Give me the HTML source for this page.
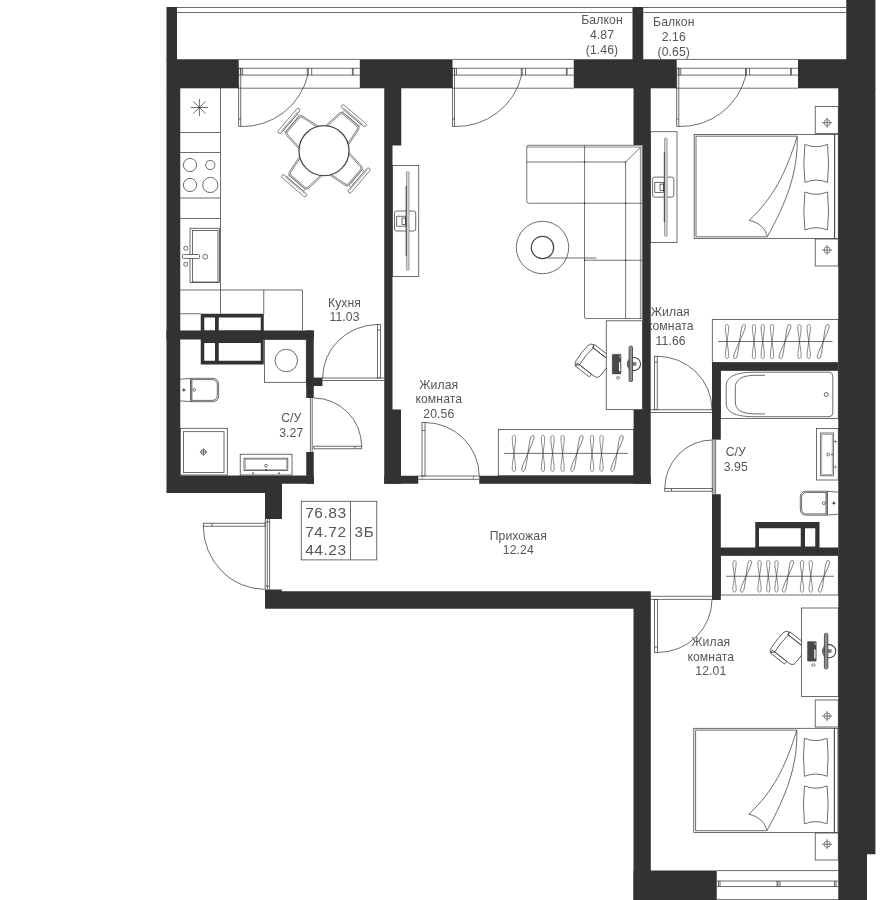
<!DOCTYPE html>
<html lang="ru"><head><meta charset="utf-8"><title>Планировка 3Б</title>
<style>html,body{margin:0;padding:0;background:#fff}svg{display:block}text{-webkit-font-smoothing:antialiased}</style></head>
<body>
<div style="width:882px;height:900px;overflow:hidden;will-change:transform;transform:translateZ(0)">
<svg width="882" height="900" viewBox="0 0 882 900">
<rect width="882" height="900" fill="#fff"/>
<g id="lines" fill="none" stroke-linecap="butt">
<line x1="177.00" y1="7.50" x2="632.50" y2="7.50" stroke="#3c3c3c" stroke-width="0.75"/>
<line x1="177.00" y1="12.50" x2="632.50" y2="12.50" stroke="#3c3c3c" stroke-width="0.75"/>
<line x1="643.25" y1="7.50" x2="846.25" y2="7.50" stroke="#3c3c3c" stroke-width="0.75"/>
<line x1="643.25" y1="12.50" x2="846.25" y2="12.50" stroke="#3c3c3c" stroke-width="0.75"/>
<line x1="238.70" y1="59.40" x2="359.80" y2="59.40" stroke="#3c3c3c" stroke-width="0.75"/>
<line x1="238.70" y1="68.25" x2="359.80" y2="68.25" stroke="#3c3c3c" stroke-width="0.75"/>
<line x1="238.70" y1="75.10" x2="359.80" y2="75.10" stroke="#3c3c3c" stroke-width="0.75"/>
<line x1="238.70" y1="88.20" x2="359.80" y2="88.20" stroke="#3c3c3c" stroke-width="0.75"/>
<line x1="240.80" y1="68.25" x2="240.80" y2="75.10" stroke="#3c3c3c" stroke-width="0.75"/>
<line x1="242.70" y1="68.25" x2="242.70" y2="75.10" stroke="#3c3c3c" stroke-width="0.75"/>
<line x1="352.40" y1="68.25" x2="352.40" y2="75.10" stroke="#3c3c3c" stroke-width="0.75"/>
<line x1="353.20" y1="68.25" x2="353.20" y2="75.10" stroke="#3c3c3c" stroke-width="0.75"/>
<line x1="307.30" y1="68.25" x2="307.30" y2="75.10" stroke="#3c3c3c" stroke-width="0.75"/>
<line x1="311.70" y1="68.25" x2="311.70" y2="75.10" stroke="#3c3c3c" stroke-width="0.75"/>
<line x1="308.30" y1="68.25" x2="308.30" y2="75.10" stroke="#3c3c3c" stroke-width="0.75"/>
<rect x="238.70" y="68.25" width="2.10" height="58.25" fill="none" stroke="#3c3c3c" stroke-width="0.75" />
<line x1="238.70" y1="119.00" x2="240.80" y2="119.00" stroke="#3c3c3c" stroke-width="0.75"/>
<path d="M240.80,126.5 A67 67 0 0 0 307.80,75.1" fill="none" stroke="#3c3c3c" stroke-width="0.75" />
<line x1="452.50" y1="59.40" x2="573.75" y2="59.40" stroke="#3c3c3c" stroke-width="0.75"/>
<line x1="452.50" y1="68.25" x2="573.75" y2="68.25" stroke="#3c3c3c" stroke-width="0.75"/>
<line x1="452.50" y1="75.10" x2="573.75" y2="75.10" stroke="#3c3c3c" stroke-width="0.75"/>
<line x1="452.50" y1="88.20" x2="573.75" y2="88.20" stroke="#3c3c3c" stroke-width="0.75"/>
<line x1="454.60" y1="68.25" x2="454.60" y2="75.10" stroke="#3c3c3c" stroke-width="0.75"/>
<line x1="456.50" y1="68.25" x2="456.50" y2="75.10" stroke="#3c3c3c" stroke-width="0.75"/>
<line x1="566.35" y1="68.25" x2="566.35" y2="75.10" stroke="#3c3c3c" stroke-width="0.75"/>
<line x1="567.15" y1="68.25" x2="567.15" y2="75.10" stroke="#3c3c3c" stroke-width="0.75"/>
<line x1="521.25" y1="68.25" x2="521.25" y2="75.10" stroke="#3c3c3c" stroke-width="0.75"/>
<line x1="525.60" y1="68.25" x2="525.60" y2="75.10" stroke="#3c3c3c" stroke-width="0.75"/>
<line x1="522.25" y1="68.25" x2="522.25" y2="75.10" stroke="#3c3c3c" stroke-width="0.75"/>
<rect x="452.50" y="68.25" width="2.10" height="58.25" fill="none" stroke="#3c3c3c" stroke-width="0.75" />
<line x1="452.50" y1="119.00" x2="454.60" y2="119.00" stroke="#3c3c3c" stroke-width="0.75"/>
<path d="M454.60,126.5 A67 67 0 0 0 521.75,75.1" fill="none" stroke="#3c3c3c" stroke-width="0.75" />
<line x1="676.75" y1="59.40" x2="798.00" y2="59.40" stroke="#3c3c3c" stroke-width="0.75"/>
<line x1="676.75" y1="68.25" x2="798.00" y2="68.25" stroke="#3c3c3c" stroke-width="0.75"/>
<line x1="676.75" y1="75.10" x2="798.00" y2="75.10" stroke="#3c3c3c" stroke-width="0.75"/>
<line x1="676.75" y1="88.20" x2="798.00" y2="88.20" stroke="#3c3c3c" stroke-width="0.75"/>
<line x1="678.85" y1="68.25" x2="678.85" y2="75.10" stroke="#3c3c3c" stroke-width="0.75"/>
<line x1="680.75" y1="68.25" x2="680.75" y2="75.10" stroke="#3c3c3c" stroke-width="0.75"/>
<line x1="790.60" y1="68.25" x2="790.60" y2="75.10" stroke="#3c3c3c" stroke-width="0.75"/>
<line x1="791.40" y1="68.25" x2="791.40" y2="75.10" stroke="#3c3c3c" stroke-width="0.75"/>
<line x1="745.50" y1="68.25" x2="745.50" y2="75.10" stroke="#3c3c3c" stroke-width="0.75"/>
<line x1="749.60" y1="68.25" x2="749.60" y2="75.10" stroke="#3c3c3c" stroke-width="0.75"/>
<line x1="746.50" y1="68.25" x2="746.50" y2="75.10" stroke="#3c3c3c" stroke-width="0.75"/>
<rect x="676.75" y="68.25" width="2.10" height="58.25" fill="none" stroke="#3c3c3c" stroke-width="0.75" />
<line x1="676.75" y1="119.00" x2="678.85" y2="119.00" stroke="#3c3c3c" stroke-width="0.75"/>
<path d="M678.85,126.5 A67 67 0 0 0 746.00,75.1" fill="none" stroke="#3c3c3c" stroke-width="0.75" />
<line x1="716.75" y1="870.60" x2="838.25" y2="870.60" stroke="#3c3c3c" stroke-width="0.75"/>
<line x1="716.75" y1="881.00" x2="838.25" y2="881.00" stroke="#3c3c3c" stroke-width="0.75"/>
<line x1="716.75" y1="886.50" x2="838.25" y2="886.50" stroke="#3c3c3c" stroke-width="0.75"/>
<line x1="716.75" y1="899.60" x2="838.25" y2="899.60" stroke="#3c3c3c" stroke-width="0.75"/>
<line x1="718.50" y1="881.00" x2="718.50" y2="886.50" stroke="#3c3c3c" stroke-width="0.75"/>
<line x1="720.00" y1="881.00" x2="720.00" y2="886.50" stroke="#3c3c3c" stroke-width="0.75"/>
<line x1="777.00" y1="881.00" x2="777.00" y2="886.50" stroke="#3c3c3c" stroke-width="0.75"/>
<line x1="780.00" y1="881.00" x2="780.00" y2="886.50" stroke="#3c3c3c" stroke-width="0.75"/>
<line x1="778.00" y1="881.00" x2="778.00" y2="886.50" stroke="#3c3c3c" stroke-width="0.75"/>
<line x1="834.50" y1="881.00" x2="834.50" y2="886.50" stroke="#3c3c3c" stroke-width="0.75"/>
<line x1="836.00" y1="881.00" x2="836.00" y2="886.50" stroke="#3c3c3c" stroke-width="0.75"/>
<line x1="220.50" y1="88.00" x2="220.50" y2="313.75" stroke="#3c3c3c" stroke-width="0.75"/>
<line x1="180.25" y1="132.50" x2="220.50" y2="132.50" stroke="#3c3c3c" stroke-width="0.75"/>
<line x1="180.25" y1="152.50" x2="220.50" y2="152.50" stroke="#3c3c3c" stroke-width="0.75"/>
<line x1="180.25" y1="198.00" x2="220.50" y2="198.00" stroke="#3c3c3c" stroke-width="0.75"/>
<line x1="180.25" y1="218.50" x2="220.50" y2="218.50" stroke="#3c3c3c" stroke-width="0.75"/>
<line x1="180.25" y1="290.00" x2="302.50" y2="290.00" stroke="#3c3c3c" stroke-width="0.75"/>
<line x1="263.75" y1="290.00" x2="263.75" y2="313.75" stroke="#3c3c3c" stroke-width="0.75"/>
<line x1="302.50" y1="290.00" x2="302.50" y2="330.50" stroke="#3c3c3c" stroke-width="0.75"/>
<line x1="180.25" y1="313.75" x2="200.75" y2="313.75" stroke="#3c3c3c" stroke-width="0.75"/>
<line x1="190.80" y1="107.50" x2="208.00" y2="107.50" stroke="#3c3c3c" stroke-width="0.75"/>
<line x1="193.32" y1="101.42" x2="205.48" y2="113.58" stroke="#3c3c3c" stroke-width="0.75"/>
<line x1="199.40" y1="98.90" x2="199.40" y2="116.10" stroke="#3c3c3c" stroke-width="0.75"/>
<line x1="205.48" y1="101.42" x2="193.32" y2="113.58" stroke="#3c3c3c" stroke-width="0.75"/>
<circle cx="190.00" cy="165.00" r="6.60" fill="none" stroke="#3c3c3c" stroke-width="0.75"/>
<circle cx="210.30" cy="165.00" r="4.60" fill="none" stroke="#3c3c3c" stroke-width="0.75"/>
<circle cx="190.00" cy="185.00" r="6.60" fill="none" stroke="#3c3c3c" stroke-width="0.75"/>
<circle cx="210.30" cy="185.00" r="7.60" fill="none" stroke="#3c3c3c" stroke-width="0.75"/>
<rect x="190.00" y="228.25" width="29.60" height="54.35" fill="none" stroke="#3c3c3c" stroke-width="0.75" />
<rect x="192.40" y="230.50" width="25.60" height="51.50" fill="none" stroke="#3c3c3c" stroke-width="0.75" />
<rect x="182.50" y="254.50" width="17.00" height="4.00" fill="#fff" stroke="#3c3c3c" stroke-width="0.75" rx="1" />
<circle cx="185.75" cy="248.25" r="2.00" fill="none" stroke="#3c3c3c" stroke-width="0.75"/>
<circle cx="185.75" cy="264.25" r="2.00" fill="none" stroke="#3c3c3c" stroke-width="0.75"/>
<circle cx="205.25" cy="256.75" r="2.40" fill="none" stroke="#3c3c3c" stroke-width="0.75"/>
<g transform="translate(324,150.7) rotate(40.4)">
<path d="M15,-15.5 L38.4,-12.7 Q41.3,-12.3 41.3,-9.6 L41.3,9.6 Q41.3,12.3 38.4,12.7 L15,15.5" fill="none" stroke="#3c3c3c" stroke-width="0.6" />
<path d="M15,-14.1 L38,-11.4 Q40,-11.1 40,-9 L40,9 Q40,11.1 38,11.4 L15,14.1" fill="none" stroke="#3c3c3c" stroke-width="0.6" />
<rect x="41.60" y="-10.80" width="2.40" height="21.60" fill="none" stroke="#3c3c3c" stroke-width="0.45" />
<rect x="44.20" y="-15.90" width="3.60" height="31.80" fill="#fff" stroke="#3c3c3c" stroke-width="0.6" rx="1.8" />
<line x1="45.30" y1="-13.00" x2="45.30" y2="13.00" stroke="#3c3c3c" stroke-width="0.4"/>
</g>
<g transform="translate(324,150.7) rotate(130.4)">
<path d="M15,-15.5 L38.4,-12.7 Q41.3,-12.3 41.3,-9.6 L41.3,9.6 Q41.3,12.3 38.4,12.7 L15,15.5" fill="none" stroke="#3c3c3c" stroke-width="0.6" />
<path d="M15,-14.1 L38,-11.4 Q40,-11.1 40,-9 L40,9 Q40,11.1 38,11.4 L15,14.1" fill="none" stroke="#3c3c3c" stroke-width="0.6" />
<rect x="41.60" y="-10.80" width="2.40" height="21.60" fill="none" stroke="#3c3c3c" stroke-width="0.45" />
<rect x="44.20" y="-15.90" width="3.60" height="31.80" fill="#fff" stroke="#3c3c3c" stroke-width="0.6" rx="1.8" />
<line x1="45.30" y1="-13.00" x2="45.30" y2="13.00" stroke="#3c3c3c" stroke-width="0.4"/>
</g>
<g transform="translate(324,150.7) rotate(220.4)">
<path d="M15,-15.5 L38.4,-12.7 Q41.3,-12.3 41.3,-9.6 L41.3,9.6 Q41.3,12.3 38.4,12.7 L15,15.5" fill="none" stroke="#3c3c3c" stroke-width="0.6" />
<path d="M15,-14.1 L38,-11.4 Q40,-11.1 40,-9 L40,9 Q40,11.1 38,11.4 L15,14.1" fill="none" stroke="#3c3c3c" stroke-width="0.6" />
<rect x="41.60" y="-10.80" width="2.40" height="21.60" fill="none" stroke="#3c3c3c" stroke-width="0.45" />
<rect x="44.20" y="-15.90" width="3.60" height="31.80" fill="#fff" stroke="#3c3c3c" stroke-width="0.6" rx="1.8" />
<line x1="45.30" y1="-13.00" x2="45.30" y2="13.00" stroke="#3c3c3c" stroke-width="0.4"/>
</g>
<g transform="translate(324,150.7) rotate(310.4)">
<path d="M15,-15.5 L38.4,-12.7 Q41.3,-12.3 41.3,-9.6 L41.3,9.6 Q41.3,12.3 38.4,12.7 L15,15.5" fill="none" stroke="#3c3c3c" stroke-width="0.6" />
<path d="M15,-14.1 L38,-11.4 Q40,-11.1 40,-9 L40,9 Q40,11.1 38,11.4 L15,14.1" fill="none" stroke="#3c3c3c" stroke-width="0.6" />
<rect x="41.60" y="-10.80" width="2.40" height="21.60" fill="none" stroke="#3c3c3c" stroke-width="0.45" />
<rect x="44.20" y="-15.90" width="3.60" height="31.80" fill="#fff" stroke="#3c3c3c" stroke-width="0.6" rx="1.8" />
<line x1="45.30" y1="-13.00" x2="45.30" y2="13.00" stroke="#3c3c3c" stroke-width="0.4"/>
</g>
<circle cx="324.00" cy="150.70" r="25.00" fill="#fff" stroke="#484848" stroke-width="1.25"/>
<line x1="322.50" y1="378.00" x2="384.25" y2="378.00" stroke="#3c3c3c" stroke-width="0.75"/>
<line x1="322.50" y1="380.50" x2="384.25" y2="380.50" stroke="#3c3c3c" stroke-width="0.75"/>
<rect x="377.60" y="324.50" width="2.80" height="53.50" fill="none" stroke="#3c3c3c" stroke-width="0.75" />
<line x1="377.60" y1="330.00" x2="380.40" y2="330.00" stroke="#3c3c3c" stroke-width="0.75"/>
<path d="M377.6,324.5 A55.5 53.5 0 0 0 322.6,378" fill="none" stroke="#3c3c3c" stroke-width="0.75" />
<rect x="264.50" y="339.50" width="41.75" height="42.80" fill="none" stroke="#3c3c3c" stroke-width="0.75" />
<circle cx="286.25" cy="360.50" r="11.25" fill="none" stroke="#3c3c3c" stroke-width="0.75"/>
<path d="M180.25,379.2 L190.8,378.4 L190.8,401.6 L180.25,400.9" fill="none" stroke="#3c3c3c" stroke-width="0.75" />
<path d="M190.8,378.3 L212.4,378.3 Q218.6,378.3 218.6,384.5 L218.6,395.5 Q218.6,401.7 212.4,401.7 L190.8,401.7 Z" fill="none" stroke="#3c3c3c" stroke-width="0.75" />
<path d="M191.9,379.6 L212,379.6 Q217.3,379.6 217.3,385 L217.3,395 Q217.3,400.4 212,400.4 L191.9,400.4 Z" fill="none" stroke="#3c3c3c" stroke-width="0.75" />
<circle cx="194.20" cy="389.90" r="1.40" fill="none" stroke="#3c3c3c" stroke-width="0.7"/>
<circle cx="183.80" cy="389.90" r="0.90" fill="#3c3c3c" stroke="#3c3c3c" stroke-width="0.3"/>
<line x1="181.60" y1="389.90" x2="186.00" y2="389.90" stroke="#3c3c3c" stroke-width="0.5"/>
<line x1="183.80" y1="387.70" x2="183.80" y2="392.10" stroke="#3c3c3c" stroke-width="0.5"/>
<rect x="180.25" y="428.30" width="47.05" height="46.70" fill="none" stroke="#3c3c3c" stroke-width="0.75" />
<rect x="183.50" y="431.70" width="40.50" height="40.80" fill="none" stroke="#3c3c3c" stroke-width="0.75" />
<circle cx="203.50" cy="452.10" r="2.50" fill="none" stroke="#3c3c3c" stroke-width="0.75"/>
<line x1="199.80" y1="452.10" x2="207.20" y2="452.10" stroke="#3c3c3c" stroke-width="0.7"/>
<line x1="203.50" y1="448.40" x2="203.50" y2="455.80" stroke="#3c3c3c" stroke-width="0.7"/>
<rect x="240.20" y="454.20" width="51.80" height="20.80" fill="none" stroke="#3c3c3c" stroke-width="0.75" />
<rect x="244.00" y="458.20" width="43.80" height="12.20" fill="none" stroke="#3c3c3c" stroke-width="0.75" />
<rect x="245.20" y="459.40" width="41.40" height="9.80" fill="none" stroke="#3c3c3c" stroke-width="0.4" />
<circle cx="266.00" cy="465.70" r="1.40" fill="none" stroke="#3c3c3c" stroke-width="0.7"/>
<circle cx="253.10" cy="473.20" r="0.80" fill="#3c3c3c" stroke="#3c3c3c" stroke-width="0.2"/>
<circle cx="279.00" cy="473.20" r="0.80" fill="#3c3c3c" stroke="#3c3c3c" stroke-width="0.2"/>
<circle cx="266.00" cy="469.80" r="0.80" fill="#3c3c3c" stroke="#3c3c3c" stroke-width="0.2"/>
<line x1="310.40" y1="397.50" x2="310.40" y2="452.00" stroke="#3c3c3c" stroke-width="0.75"/>
<line x1="312.20" y1="397.50" x2="312.20" y2="452.00" stroke="#3c3c3c" stroke-width="0.75"/>
<rect x="313.75" y="446.20" width="47.95" height="2.60" fill="none" stroke="#3c3c3c" stroke-width="0.75" />
<line x1="355.00" y1="446.20" x2="355.00" y2="448.80" stroke="#3c3c3c" stroke-width="0.75"/>
<path d="M361.7,446.2 A48 48.5 0 0 0 313.75,398" fill="none" stroke="#3c3c3c" stroke-width="0.75" />
<line x1="265.20" y1="518.75" x2="265.20" y2="589.50" stroke="#3c3c3c" stroke-width="0.75"/>
<line x1="267.30" y1="518.75" x2="267.30" y2="589.50" stroke="#3c3c3c" stroke-width="0.75"/>
<line x1="269.60" y1="518.75" x2="269.60" y2="589.50" stroke="#3c3c3c" stroke-width="0.75"/>
<line x1="265.20" y1="522.00" x2="269.60" y2="522.00" stroke="#3c3c3c" stroke-width="0.75"/>
<line x1="265.20" y1="586.00" x2="269.60" y2="586.00" stroke="#3c3c3c" stroke-width="0.75"/>
<rect x="203.30" y="523.20" width="61.90" height="3.00" fill="none" stroke="#3c3c3c" stroke-width="0.75" />
<line x1="212.00" y1="523.20" x2="212.00" y2="526.20" stroke="#3c3c3c" stroke-width="0.75"/>
<path d="M203.3,526.2 A62 63.5 0 0 0 265.2,589.4" fill="none" stroke="#3c3c3c" stroke-width="0.75" />
<rect x="392.50" y="165.50" width="26.25" height="111.00" fill="none" stroke="#3c3c3c" stroke-width="0.75" />
<rect x="394.50" y="211.00" width="21.20" height="20.00" fill="none" stroke="#3c3c3c" stroke-width="0.75" rx="2" />
<rect x="396.70" y="216.20" width="8.80" height="10.00" fill="none" stroke="#3c3c3c" stroke-width="0.75" />
<rect x="402.00" y="218.00" width="3.50" height="6.50" fill="none" stroke="#3c3c3c" stroke-width="0.75" />
<rect x="406.40" y="171.80" width="2.70" height="98.40" fill="#cfcfcf" stroke="#777" stroke-width="0.6" rx="0.8" />
<line x1="406.20" y1="185.80" x2="406.20" y2="256.20" stroke="#333" stroke-width="0.9"/>
<rect x="650.60" y="131.75" width="26.40" height="110.75" fill="none" stroke="#3c3c3c" stroke-width="0.75" />
<rect x="652.60" y="177.12" width="21.20" height="20.00" fill="none" stroke="#3c3c3c" stroke-width="0.75" rx="2" />
<rect x="654.80" y="182.32" width="8.80" height="10.00" fill="none" stroke="#3c3c3c" stroke-width="0.75" />
<rect x="660.10" y="184.12" width="3.50" height="6.50" fill="none" stroke="#3c3c3c" stroke-width="0.75" />
<rect x="664.50" y="138.05" width="2.70" height="98.15" fill="#cfcfcf" stroke="#777" stroke-width="0.6" rx="0.8" />
<line x1="664.30" y1="152.05" x2="664.30" y2="222.20" stroke="#333" stroke-width="0.9"/>
<path d="M528.5,145.3 L642.2,145.3 L642.2,318.5 L586,318.5 Q584.5,318.5 584.5,317 L584.5,203.25 L528.5,203.25 Q526.75,203.25 526.75,201.5 L526.75,147 Q526.75,145.3 528.5,145.3 Z" fill="none" stroke="#3c3c3c" stroke-width="0.7" />
<path d="M527,147.1 L640.4,147.1 L640.4,318.5" fill="none" stroke="#3c3c3c" stroke-width="0.6" />
<line x1="526.75" y1="162.00" x2="625.60" y2="162.00" stroke="#3c3c3c" stroke-width="0.7"/>
<line x1="584.60" y1="145.30" x2="584.60" y2="203.25" stroke="#3c3c3c" stroke-width="0.7"/>
<line x1="625.60" y1="162.00" x2="625.60" y2="318.50" stroke="#3c3c3c" stroke-width="0.7"/>
<line x1="625.60" y1="162.00" x2="640.40" y2="147.40" stroke="#3c3c3c" stroke-width="0.7"/>
<line x1="584.50" y1="203.25" x2="642.00" y2="203.25" stroke="#3c3c3c" stroke-width="0.7"/>
<line x1="584.50" y1="260.25" x2="642.00" y2="260.25" stroke="#3c3c3c" stroke-width="0.7"/>
<circle cx="584.60" cy="162.00" r="0.70" fill="#333" stroke="#3c3c3c" stroke-width="0"/>
<circle cx="584.60" cy="203.25" r="0.70" fill="#333" stroke="#3c3c3c" stroke-width="0"/>
<circle cx="625.60" cy="203.25" r="0.70" fill="#333" stroke="#3c3c3c" stroke-width="0"/>
<circle cx="625.60" cy="260.25" r="0.70" fill="#333" stroke="#3c3c3c" stroke-width="0"/>
<circle cx="584.60" cy="260.25" r="0.70" fill="#333" stroke="#3c3c3c" stroke-width="0"/>
<circle cx="625.60" cy="162.00" r="0.70" fill="#333" stroke="#3c3c3c" stroke-width="0"/>
<circle cx="542.50" cy="247.50" r="26.20" fill="none" stroke="#3c3c3c" stroke-width="0.75"/>
<circle cx="542.50" cy="247.50" r="11.20" fill="none" stroke="#484848" stroke-width="1.25"/>
<line x1="547.50" y1="258.00" x2="596.50" y2="258.00" stroke="#3c3c3c" stroke-width="0.75"/>
<g transform="translate(593.1,361.6) rotate(37.8)">
<path d="M-8.3,-10.9 L14.4,-10.9 L14.4,6 Q14.4,10.9 9.5,10.9 L-8.8,10.9" fill="none" stroke="#3c3c3c" stroke-width="0.75" />
<path d="M-9.5,-13.7 Q-13.4,-13.7 -14,-9 Q-14.9,0 -14,9.5 Q-13.6,13.3 -11.7,13.6" fill="none" stroke="#3c3c3c" stroke-width="0.75" />
<path d="M-8.3,-10.9 Q-10.2,0 -8.8,10.9" fill="none" stroke="#3c3c3c" stroke-width="0.75" />
<path d="M-9.5,-13.7 L-8.3,-10.9" fill="none" stroke="#3c3c3c" stroke-width="0.9" />
<path d="M-11.7,13.6 L-8.8,10.9" fill="none" stroke="#3c3c3c" stroke-width="0.9" />
<rect x="-9.20" y="-14.35" width="25.20" height="3.45" fill="none" stroke="#3c3c3c" stroke-width="0.75" />
<rect x="-11.70" y="10.90" width="18.10" height="3.45" fill="none" stroke="#3c3c3c" stroke-width="0.75" />
</g>
<rect x="606.25" y="320.80" width="36.25" height="88.60" fill="#fff" stroke="#3c3c3c" stroke-width="0.75" />
<rect x="612.15" y="354.20" width="8.90" height="19.80" fill="#484848" stroke="#484848" stroke-width="0.4" rx="1" />
<line x1="619.65" y1="362.30" x2="619.65" y2="371.20" stroke="#fff" stroke-width="1.3"/>
<line x1="619.85" y1="355.40" x2="619.85" y2="357.80" stroke="#ddd" stroke-width="0.9"/>
<ellipse cx="618.05" cy="377.80" rx="1.9" ry="1.3" fill="#e4e4e4" stroke="#666" stroke-width="0.7"/>
<circle cx="633.95" cy="364.00" r="6.60" fill="#fff" stroke="#454545" stroke-width="1.05"/>
<path d="M630.95,358.10 A6.6 6.6 0 0 0 630.95,369.90 Z" fill="#777" stroke="none" stroke-width="0" />
<rect x="632.75" y="362.30" width="3.30" height="3.30" fill="#808080" stroke="#666" stroke-width="0.4" />
<rect x="629.15" y="346.20" width="3.40" height="35.40" fill="#909090" stroke="#444" stroke-width="0.9" rx="1.3" />
<rect x="498.30" y="429.60" width="135.45" height="46.15" fill="none" stroke="#3c3c3c" stroke-width="0.75" />
<line x1="504.00" y1="453.40" x2="628.20" y2="453.40" stroke="#3c3c3c" stroke-width="0.75"/>
<g transform="translate(513.90,453.40) rotate(0)">
<path d="M0,0 C-0.7,-5.94 -1.75,-10.80 -1.65,-15.84 C-1.5,-18.72 1.5,-18.72 1.65,-15.84 C1.75,-10.80 0.7,-5.94 0,0 C-0.7,5.94 -1.75,10.80 -1.65,15.84 C-1.5,18.72 1.5,18.72 1.65,15.84 C1.75,10.80 0.7,5.94 0,0 Z" fill="none" stroke="#3c3c3c" stroke-width="0.6" />
</g>
<g transform="translate(527.90,453.40) rotate(16)">
<path d="M0,0 C-0.7,-6.18 -1.75,-11.23 -1.65,-16.47 C-1.5,-19.47 1.5,-19.47 1.65,-16.47 C1.75,-11.23 0.7,-6.18 0,0 C-0.7,6.18 -1.75,11.23 -1.65,16.47 C-1.5,19.47 1.5,19.47 1.65,16.47 C1.75,11.23 0.7,6.18 0,0 Z" fill="none" stroke="#3c3c3c" stroke-width="0.6" />
</g>
<g transform="translate(543.00,453.40) rotate(0)">
<path d="M0,0 C-0.7,-5.94 -1.75,-10.80 -1.65,-15.84 C-1.5,-18.72 1.5,-18.72 1.65,-15.84 C1.75,-10.80 0.7,-5.94 0,0 C-0.7,5.94 -1.75,10.80 -1.65,15.84 C-1.5,18.72 1.5,18.72 1.65,15.84 C1.75,10.80 0.7,5.94 0,0 Z" fill="none" stroke="#3c3c3c" stroke-width="0.6" />
</g>
<g transform="translate(552.50,453.40) rotate(0)">
<path d="M0,0 C-0.7,-5.94 -1.75,-10.80 -1.65,-15.84 C-1.5,-18.72 1.5,-18.72 1.65,-15.84 C1.75,-10.80 0.7,-5.94 0,0 C-0.7,5.94 -1.75,10.80 -1.65,15.84 C-1.5,18.72 1.5,18.72 1.65,15.84 C1.75,10.80 0.7,5.94 0,0 Z" fill="none" stroke="#3c3c3c" stroke-width="0.6" />
</g>
<g transform="translate(562.60,453.40) rotate(0)">
<path d="M0,0 C-0.7,-5.94 -1.75,-10.80 -1.65,-15.84 C-1.5,-18.72 1.5,-18.72 1.65,-15.84 C1.75,-10.80 0.7,-5.94 0,0 C-0.7,5.94 -1.75,10.80 -1.65,15.84 C-1.5,18.72 1.5,18.72 1.65,15.84 C1.75,10.80 0.7,5.94 0,0 Z" fill="none" stroke="#3c3c3c" stroke-width="0.6" />
</g>
<g transform="translate(576.90,453.40) rotate(16)">
<path d="M0,0 C-0.7,-6.18 -1.75,-11.23 -1.65,-16.47 C-1.5,-19.47 1.5,-19.47 1.65,-16.47 C1.75,-11.23 0.7,-6.18 0,0 C-0.7,6.18 -1.75,11.23 -1.65,16.47 C-1.5,19.47 1.5,19.47 1.65,16.47 C1.75,11.23 0.7,6.18 0,0 Z" fill="none" stroke="#3c3c3c" stroke-width="0.6" />
</g>
<g transform="translate(592.00,453.40) rotate(0)">
<path d="M0,0 C-0.7,-5.94 -1.75,-10.80 -1.65,-15.84 C-1.5,-18.72 1.5,-18.72 1.65,-15.84 C1.75,-10.80 0.7,-5.94 0,0 C-0.7,5.94 -1.75,10.80 -1.65,15.84 C-1.5,18.72 1.5,18.72 1.65,15.84 C1.75,10.80 0.7,5.94 0,0 Z" fill="none" stroke="#3c3c3c" stroke-width="0.6" />
</g>
<g transform="translate(601.50,453.40) rotate(0)">
<path d="M0,0 C-0.7,-5.94 -1.75,-10.80 -1.65,-15.84 C-1.5,-18.72 1.5,-18.72 1.65,-15.84 C1.75,-10.80 0.7,-5.94 0,0 C-0.7,5.94 -1.75,10.80 -1.65,15.84 C-1.5,18.72 1.5,18.72 1.65,15.84 C1.75,10.80 0.7,5.94 0,0 Z" fill="none" stroke="#3c3c3c" stroke-width="0.6" />
</g>
<g transform="translate(617.00,453.40) rotate(16)">
<path d="M0,0 C-0.7,-6.18 -1.75,-11.23 -1.65,-16.47 C-1.5,-19.47 1.5,-19.47 1.65,-16.47 C1.75,-11.23 0.7,-6.18 0,0 C-0.7,6.18 -1.75,11.23 -1.65,16.47 C-1.5,19.47 1.5,19.47 1.65,16.47 C1.75,11.23 0.7,6.18 0,0 Z" fill="none" stroke="#3c3c3c" stroke-width="0.6" />
</g>
<rect x="712.30" y="319.50" width="125.95" height="43.00" fill="none" stroke="#3c3c3c" stroke-width="0.75" />
<line x1="718.25" y1="341.50" x2="832.50" y2="341.50" stroke="#3c3c3c" stroke-width="0.75"/>
<g transform="translate(727.00,341.50) rotate(0)">
<path d="M0,0 C-0.7,-5.61 -1.75,-10.20 -1.65,-14.96 C-1.5,-17.68 1.5,-17.68 1.65,-14.96 C1.75,-10.20 0.7,-5.61 0,0 C-0.7,5.61 -1.75,10.20 -1.65,14.96 C-1.5,17.68 1.5,17.68 1.65,14.96 C1.75,10.20 0.7,5.61 0,0 Z" fill="none" stroke="#3c3c3c" stroke-width="0.6" />
</g>
<g transform="translate(739.50,341.50) rotate(16)">
<path d="M0,0 C-0.7,-5.83 -1.75,-10.61 -1.65,-15.56 C-1.5,-18.39 1.5,-18.39 1.65,-15.56 C1.75,-10.61 0.7,-5.83 0,0 C-0.7,5.83 -1.75,10.61 -1.65,15.56 C-1.5,18.39 1.5,18.39 1.65,15.56 C1.75,10.61 0.7,5.83 0,0 Z" fill="none" stroke="#3c3c3c" stroke-width="0.6" />
</g>
<g transform="translate(754.00,341.50) rotate(0)">
<path d="M0,0 C-0.7,-5.61 -1.75,-10.20 -1.65,-14.96 C-1.5,-17.68 1.5,-17.68 1.65,-14.96 C1.75,-10.20 0.7,-5.61 0,0 C-0.7,5.61 -1.75,10.20 -1.65,14.96 C-1.5,17.68 1.5,17.68 1.65,14.96 C1.75,10.20 0.7,5.61 0,0 Z" fill="none" stroke="#3c3c3c" stroke-width="0.6" />
</g>
<g transform="translate(762.75,341.50) rotate(0)">
<path d="M0,0 C-0.7,-5.61 -1.75,-10.20 -1.65,-14.96 C-1.5,-17.68 1.5,-17.68 1.65,-14.96 C1.75,-10.20 0.7,-5.61 0,0 C-0.7,5.61 -1.75,10.20 -1.65,14.96 C-1.5,17.68 1.5,17.68 1.65,14.96 C1.75,10.20 0.7,5.61 0,0 Z" fill="none" stroke="#3c3c3c" stroke-width="0.6" />
</g>
<g transform="translate(772.00,341.50) rotate(0)">
<path d="M0,0 C-0.7,-5.61 -1.75,-10.20 -1.65,-14.96 C-1.5,-17.68 1.5,-17.68 1.65,-14.96 C1.75,-10.20 0.7,-5.61 0,0 C-0.7,5.61 -1.75,10.20 -1.65,14.96 C-1.5,17.68 1.5,17.68 1.65,14.96 C1.75,10.20 0.7,5.61 0,0 Z" fill="none" stroke="#3c3c3c" stroke-width="0.6" />
</g>
<g transform="translate(785.00,341.50) rotate(16)">
<path d="M0,0 C-0.7,-5.83 -1.75,-10.61 -1.65,-15.56 C-1.5,-18.39 1.5,-18.39 1.65,-15.56 C1.75,-10.61 0.7,-5.83 0,0 C-0.7,5.83 -1.75,10.61 -1.65,15.56 C-1.5,18.39 1.5,18.39 1.65,15.56 C1.75,10.61 0.7,5.83 0,0 Z" fill="none" stroke="#3c3c3c" stroke-width="0.6" />
</g>
<g transform="translate(799.50,341.50) rotate(0)">
<path d="M0,0 C-0.7,-5.61 -1.75,-10.20 -1.65,-14.96 C-1.5,-17.68 1.5,-17.68 1.65,-14.96 C1.75,-10.20 0.7,-5.61 0,0 C-0.7,5.61 -1.75,10.20 -1.65,14.96 C-1.5,17.68 1.5,17.68 1.65,14.96 C1.75,10.20 0.7,5.61 0,0 Z" fill="none" stroke="#3c3c3c" stroke-width="0.6" />
</g>
<g transform="translate(808.75,341.50) rotate(0)">
<path d="M0,0 C-0.7,-5.61 -1.75,-10.20 -1.65,-14.96 C-1.5,-17.68 1.5,-17.68 1.65,-14.96 C1.75,-10.20 0.7,-5.61 0,0 C-0.7,5.61 -1.75,10.20 -1.65,14.96 C-1.5,17.68 1.5,17.68 1.65,14.96 C1.75,10.20 0.7,5.61 0,0 Z" fill="none" stroke="#3c3c3c" stroke-width="0.6" />
</g>
<g transform="translate(823.25,341.50) rotate(16)">
<path d="M0,0 C-0.7,-5.83 -1.75,-10.61 -1.65,-15.56 C-1.5,-18.39 1.5,-18.39 1.65,-15.56 C1.75,-10.61 0.7,-5.83 0,0 C-0.7,5.83 -1.75,10.61 -1.65,15.56 C-1.5,18.39 1.5,18.39 1.65,15.56 C1.75,10.61 0.7,5.83 0,0 Z" fill="none" stroke="#3c3c3c" stroke-width="0.6" />
</g>
<rect x="720.50" y="555.50" width="117.75" height="39.50" fill="none" stroke="#3c3c3c" stroke-width="0.75" />
<line x1="726.25" y1="576.25" x2="833.75" y2="576.25" stroke="#3c3c3c" stroke-width="0.75"/>
<g transform="translate(734.50,576.25) rotate(0)">
<path d="M0,0 C-0.7,-5.21 -1.75,-9.48 -1.65,-13.90 C-1.5,-16.43 1.5,-16.43 1.65,-13.90 C1.75,-9.48 0.7,-5.21 0,0 C-0.7,5.21 -1.75,9.48 -1.65,13.90 C-1.5,16.43 1.5,16.43 1.65,13.90 C1.75,9.48 0.7,5.21 0,0 Z" fill="none" stroke="#3c3c3c" stroke-width="0.6" />
</g>
<g transform="translate(746.00,576.25) rotate(16)">
<path d="M0,0 C-0.7,-5.42 -1.75,-9.86 -1.65,-14.46 C-1.5,-17.09 1.5,-17.09 1.65,-14.46 C1.75,-9.86 0.7,-5.42 0,0 C-0.7,5.42 -1.75,9.86 -1.65,14.46 C-1.5,17.09 1.5,17.09 1.65,14.46 C1.75,9.86 0.7,5.42 0,0 Z" fill="none" stroke="#3c3c3c" stroke-width="0.6" />
</g>
<g transform="translate(759.50,576.25) rotate(0)">
<path d="M0,0 C-0.7,-5.21 -1.75,-9.48 -1.65,-13.90 C-1.5,-16.43 1.5,-16.43 1.65,-13.90 C1.75,-9.48 0.7,-5.21 0,0 C-0.7,5.21 -1.75,9.48 -1.65,13.90 C-1.5,16.43 1.5,16.43 1.65,13.90 C1.75,9.48 0.7,5.21 0,0 Z" fill="none" stroke="#3c3c3c" stroke-width="0.6" />
</g>
<g transform="translate(768.25,576.25) rotate(0)">
<path d="M0,0 C-0.7,-5.21 -1.75,-9.48 -1.65,-13.90 C-1.5,-16.43 1.5,-16.43 1.65,-13.90 C1.75,-9.48 0.7,-5.21 0,0 C-0.7,5.21 -1.75,9.48 -1.65,13.90 C-1.5,16.43 1.5,16.43 1.65,13.90 C1.75,9.48 0.7,5.21 0,0 Z" fill="none" stroke="#3c3c3c" stroke-width="0.6" />
</g>
<g transform="translate(776.50,576.25) rotate(0)">
<path d="M0,0 C-0.7,-5.21 -1.75,-9.48 -1.65,-13.90 C-1.5,-16.43 1.5,-16.43 1.65,-13.90 C1.75,-9.48 0.7,-5.21 0,0 C-0.7,5.21 -1.75,9.48 -1.65,13.90 C-1.5,16.43 1.5,16.43 1.65,13.90 C1.75,9.48 0.7,5.21 0,0 Z" fill="none" stroke="#3c3c3c" stroke-width="0.6" />
</g>
<g transform="translate(788.00,576.25) rotate(16)">
<path d="M0,0 C-0.7,-5.42 -1.75,-9.86 -1.65,-14.46 C-1.5,-17.09 1.5,-17.09 1.65,-14.46 C1.75,-9.86 0.7,-5.42 0,0 C-0.7,5.42 -1.75,9.86 -1.65,14.46 C-1.5,17.09 1.5,17.09 1.65,14.46 C1.75,9.86 0.7,5.42 0,0 Z" fill="none" stroke="#3c3c3c" stroke-width="0.6" />
</g>
<g transform="translate(802.00,576.25) rotate(0)">
<path d="M0,0 C-0.7,-5.21 -1.75,-9.48 -1.65,-13.90 C-1.5,-16.43 1.5,-16.43 1.65,-13.90 C1.75,-9.48 0.7,-5.21 0,0 C-0.7,5.21 -1.75,9.48 -1.65,13.90 C-1.5,16.43 1.5,16.43 1.65,13.90 C1.75,9.48 0.7,5.21 0,0 Z" fill="none" stroke="#3c3c3c" stroke-width="0.6" />
</g>
<g transform="translate(810.75,576.25) rotate(0)">
<path d="M0,0 C-0.7,-5.21 -1.75,-9.48 -1.65,-13.90 C-1.5,-16.43 1.5,-16.43 1.65,-13.90 C1.75,-9.48 0.7,-5.21 0,0 C-0.7,5.21 -1.75,9.48 -1.65,13.90 C-1.5,16.43 1.5,16.43 1.65,13.90 C1.75,9.48 0.7,5.21 0,0 Z" fill="none" stroke="#3c3c3c" stroke-width="0.6" />
</g>
<g transform="translate(824.00,576.25) rotate(16)">
<path d="M0,0 C-0.7,-5.42 -1.75,-9.86 -1.65,-14.46 C-1.5,-17.09 1.5,-17.09 1.65,-14.46 C1.75,-9.86 0.7,-5.42 0,0 C-0.7,5.42 -1.75,9.86 -1.65,14.46 C-1.5,17.09 1.5,17.09 1.65,14.46 C1.75,9.86 0.7,5.42 0,0 Z" fill="none" stroke="#3c3c3c" stroke-width="0.6" />
</g>
<line x1="418.25" y1="476.00" x2="479.25" y2="476.00" stroke="#3c3c3c" stroke-width="0.75"/>
<line x1="418.25" y1="479.30" x2="479.25" y2="479.30" stroke="#3c3c3c" stroke-width="0.75"/>
<line x1="422.00" y1="476.00" x2="422.00" y2="479.30" stroke="#3c3c3c" stroke-width="0.5"/>
<line x1="473.50" y1="476.00" x2="473.50" y2="479.30" stroke="#3c3c3c" stroke-width="0.5"/>
<rect x="422.00" y="422.50" width="3.00" height="53.50" fill="none" stroke="#3c3c3c" stroke-width="0.75" />
<line x1="422.00" y1="430.50" x2="425.00" y2="430.50" stroke="#3c3c3c" stroke-width="0.75"/>
<path d="M425,422.5 A54.5 54 0 0 1 479.25,476" fill="none" stroke="#3c3c3c" stroke-width="0.75" />
<rect x="815.20" y="106.60" width="23.05" height="27.00" fill="none" stroke="#3c3c3c" stroke-width="0.75" />
<circle cx="827.12" cy="122.70" r="3.10" fill="none" stroke="#3c3c3c" stroke-width="0.6"/>
<line x1="822.12" y1="122.70" x2="832.12" y2="122.70" stroke="#3c3c3c" stroke-width="0.7"/>
<line x1="827.12" y1="117.70" x2="827.12" y2="127.70" stroke="#3c3c3c" stroke-width="0.7"/>
<rect x="694.20" y="134.40" width="140.50" height="104.20" fill="none" stroke="#3c3c3c" stroke-width="0.75" />
<rect x="834.70" y="134.40" width="3.60" height="104.20" fill="none" stroke="#3c3c3c" stroke-width="0.75" />
<path d="M797.20,136.20 L696.00,136.20 L696.00,236.80 L767.20,236.80" fill="none" stroke="#3c3c3c" stroke-width="0.75" />
<path d="M797.20,136.40 C785.20,174.40 774.20,196.40 749.20,220.40 C759.20,222.40 765.20,228.40 767.40,236.60 C786.20,202.40 798.20,172.40 797.20,136.40 Z" fill="#fff" stroke="#3c3c3c" stroke-width="0.75" />
<path d="M805.40,144.60 Q816.20,148.80 827.00,144.60 Q828.00,143.80 827.60,145.60 Q829.50,163.40 827.60,181.20 Q828.00,183.00 827.00,182.20 Q816.20,178.00 805.40,182.20 Q804.40,183.00 804.80,181.20 Q802.90,163.40 804.80,145.60 Q804.40,143.80 805.40,144.60 Z" fill="none" stroke="#3c3c3c" stroke-width="0.75" />
<path d="M805.40,192.20 Q816.20,196.40 827.00,192.20 Q828.00,191.40 827.60,193.20 Q829.50,211.00 827.60,228.80 Q828.00,230.60 827.00,229.80 Q816.20,225.60 805.40,229.80 Q804.40,230.60 804.80,228.80 Q802.90,211.00 804.80,193.20 Q804.40,191.40 805.40,192.20 Z" fill="none" stroke="#3c3c3c" stroke-width="0.75" />
<rect x="815.20" y="239.00" width="23.05" height="27.00" fill="none" stroke="#3c3c3c" stroke-width="0.75" />
<circle cx="827.12" cy="250.00" r="3.10" fill="none" stroke="#3c3c3c" stroke-width="0.6"/>
<line x1="822.12" y1="250.00" x2="832.12" y2="250.00" stroke="#3c3c3c" stroke-width="0.7"/>
<line x1="827.12" y1="245.00" x2="827.12" y2="255.00" stroke="#3c3c3c" stroke-width="0.7"/>
<line x1="650.50" y1="409.70" x2="712.00" y2="409.70" stroke="#3c3c3c" stroke-width="0.75"/>
<line x1="650.50" y1="412.50" x2="712.00" y2="412.50" stroke="#3c3c3c" stroke-width="0.75"/>
<rect x="654.50" y="356.25" width="2.70" height="53.45" fill="none" stroke="#3c3c3c" stroke-width="0.75" />
<line x1="654.50" y1="362.00" x2="657.20" y2="362.00" stroke="#3c3c3c" stroke-width="0.75"/>
<path d="M657.2,356.25 A55 53.5 0 0 1 712,409.7" fill="none" stroke="#3c3c3c" stroke-width="0.75" />
<rect x="720.50" y="370.50" width="117.75" height="47.90" fill="none" stroke="#3c3c3c" stroke-width="0.75" />
<path d="M752,372.2 L829,372.2 Q832.8,372.2 832.8,376 L832.8,412.8 Q832.8,416.7 829,416.7 L752,416.7 C735,416.3 726.2,412 726.2,403 L726.2,386 C726.2,377 735,372.6 752,372.2 Z" fill="none" stroke="#3c3c3c" stroke-width="0.75" />
<path d="M765,375.3 L754,375.3 C742,375.6 735.3,379.5 735.3,387.5 L735.3,402 C735.3,410 742,413.6 754,413.9 L765,413.9" fill="none" stroke="#3c3c3c" stroke-width="0.75" />
<circle cx="826.20" cy="394.50" r="2.00" fill="none" stroke="#3c3c3c" stroke-width="0.75"/>
<rect x="816.50" y="428.50" width="21.75" height="51.50" fill="none" stroke="#3c3c3c" stroke-width="0.75" />
<rect x="820.70" y="433.00" width="12.60" height="42.80" fill="none" stroke="#3c3c3c" stroke-width="0.75" />
<rect x="821.90" y="434.20" width="10.20" height="40.40" fill="none" stroke="#3c3c3c" stroke-width="0.4" />
<circle cx="828.20" cy="454.50" r="1.40" fill="none" stroke="#3c3c3c" stroke-width="0.7"/>
<line x1="833.60" y1="441.50" x2="837.00" y2="441.50" stroke="#3c3c3c" stroke-width="0.5"/>
<line x1="835.30" y1="439.80" x2="835.30" y2="443.20" stroke="#3c3c3c" stroke-width="0.5"/>
<line x1="833.60" y1="467.00" x2="837.00" y2="467.00" stroke="#3c3c3c" stroke-width="0.5"/>
<line x1="835.30" y1="465.30" x2="835.30" y2="468.70" stroke="#3c3c3c" stroke-width="0.5"/>
<circle cx="832.00" cy="454.50" r="0.70" fill="#3c3c3c" stroke="#3c3c3c" stroke-width="0.2"/>
<path d="M838.25,492.2 L827.2,491.3 L827.2,515.1 L838.25,514.2" fill="none" stroke="#3c3c3c" stroke-width="0.75" />
<path d="M827.2,491.2 L806.5,491.2 Q800.3,491.2 800.3,497.4 L800.3,509 Q800.3,515.2 806.5,515.2 L827.2,515.2 Z" fill="none" stroke="#3c3c3c" stroke-width="0.75" />
<path d="M826,492.5 L806.5,492.5 Q801.6,492.5 801.6,497.6 L801.6,508.8 Q801.6,513.9 806.5,513.9 L826,513.9 Z" fill="none" stroke="#3c3c3c" stroke-width="0.75" />
<circle cx="823.80" cy="503.20" r="1.40" fill="none" stroke="#3c3c3c" stroke-width="0.7"/>
<circle cx="833.80" cy="503.20" r="0.90" fill="#3c3c3c" stroke="#3c3c3c" stroke-width="0.3"/>
<line x1="831.60" y1="503.20" x2="836.00" y2="503.20" stroke="#3c3c3c" stroke-width="0.5"/>
<line x1="833.80" y1="501.00" x2="833.80" y2="505.40" stroke="#3c3c3c" stroke-width="0.5"/>
<line x1="712.30" y1="440.00" x2="712.30" y2="494.00" stroke="#3c3c3c" stroke-width="0.75"/>
<line x1="714.00" y1="440.00" x2="714.00" y2="494.00" stroke="#3c3c3c" stroke-width="0.75"/>
<line x1="715.60" y1="440.00" x2="715.60" y2="494.00" stroke="#3c3c3c" stroke-width="0.75"/>
<rect x="664.80" y="488.40" width="47.50" height="2.80" fill="none" stroke="#3c3c3c" stroke-width="0.75" />
<line x1="671.50" y1="488.40" x2="671.50" y2="491.20" stroke="#3c3c3c" stroke-width="0.75"/>
<path d="M664.8,488.4 A47.5 48.4 0 0 1 712.3,440" fill="none" stroke="#3c3c3c" stroke-width="0.75" />
<g transform="translate(788.3,648.8) rotate(37.8)">
<path d="M-8.3,-10.9 L14.4,-10.9 L14.4,6 Q14.4,10.9 9.5,10.9 L-8.8,10.9" fill="none" stroke="#3c3c3c" stroke-width="0.75" />
<path d="M-9.5,-13.7 Q-13.4,-13.7 -14,-9 Q-14.9,0 -14,9.5 Q-13.6,13.3 -11.7,13.6" fill="none" stroke="#3c3c3c" stroke-width="0.75" />
<path d="M-8.3,-10.9 Q-10.2,0 -8.8,10.9" fill="none" stroke="#3c3c3c" stroke-width="0.75" />
<path d="M-9.5,-13.7 L-8.3,-10.9" fill="none" stroke="#3c3c3c" stroke-width="0.9" />
<path d="M-11.7,13.6 L-8.8,10.9" fill="none" stroke="#3c3c3c" stroke-width="0.9" />
<rect x="-9.20" y="-14.35" width="25.20" height="3.45" fill="none" stroke="#3c3c3c" stroke-width="0.75" />
<rect x="-11.70" y="10.90" width="18.10" height="3.45" fill="none" stroke="#3c3c3c" stroke-width="0.75" />
</g>
<rect x="801.50" y="608.00" width="36.75" height="88.60" fill="#fff" stroke="#3c3c3c" stroke-width="0.75" />
<rect x="807.40" y="641.40" width="8.90" height="19.80" fill="#484848" stroke="#484848" stroke-width="0.4" rx="1" />
<line x1="814.90" y1="649.50" x2="814.90" y2="658.40" stroke="#fff" stroke-width="1.3"/>
<line x1="815.10" y1="642.60" x2="815.10" y2="645.00" stroke="#ddd" stroke-width="0.9"/>
<ellipse cx="813.30" cy="665.00" rx="1.9" ry="1.3" fill="#e4e4e4" stroke="#666" stroke-width="0.7"/>
<circle cx="829.20" cy="651.20" r="6.60" fill="#fff" stroke="#454545" stroke-width="1.05"/>
<path d="M826.20,645.30 A6.6 6.6 0 0 0 826.20,657.10 Z" fill="#777" stroke="none" stroke-width="0" />
<rect x="828.00" y="649.50" width="3.30" height="3.30" fill="#808080" stroke="#666" stroke-width="0.4" />
<rect x="824.40" y="633.40" width="3.40" height="35.40" fill="#909090" stroke="#444" stroke-width="0.9" rx="1.3" />
<rect x="815.20" y="700.00" width="23.05" height="27.00" fill="none" stroke="#3c3c3c" stroke-width="0.75" />
<circle cx="827.12" cy="716.10" r="3.10" fill="none" stroke="#3c3c3c" stroke-width="0.6"/>
<line x1="822.12" y1="716.10" x2="832.12" y2="716.10" stroke="#3c3c3c" stroke-width="0.7"/>
<line x1="827.12" y1="711.10" x2="827.12" y2="721.10" stroke="#3c3c3c" stroke-width="0.7"/>
<rect x="693.80" y="728.30" width="140.50" height="104.20" fill="none" stroke="#3c3c3c" stroke-width="0.75" />
<rect x="834.30" y="728.30" width="3.60" height="104.20" fill="none" stroke="#3c3c3c" stroke-width="0.75" />
<path d="M796.80,730.10 L695.60,730.10 L695.60,830.70 L766.80,830.70" fill="none" stroke="#3c3c3c" stroke-width="0.75" />
<path d="M796.80,730.30 C784.80,768.30 773.80,790.30 748.80,814.30 C758.80,816.30 764.80,822.30 767.00,830.50 C785.80,796.30 797.80,766.30 796.80,730.30 Z" fill="#fff" stroke="#3c3c3c" stroke-width="0.75" />
<path d="M805.00,738.50 Q815.80,742.70 826.60,738.50 Q827.60,737.70 827.20,739.50 Q829.10,757.30 827.20,775.10 Q827.60,776.90 826.60,776.10 Q815.80,771.90 805.00,776.10 Q804.00,776.90 804.40,775.10 Q802.50,757.30 804.40,739.50 Q804.00,737.70 805.00,738.50 Z" fill="none" stroke="#3c3c3c" stroke-width="0.75" />
<path d="M805.00,786.10 Q815.80,790.30 826.60,786.10 Q827.60,785.30 827.20,787.10 Q829.10,804.90 827.20,822.70 Q827.60,824.50 826.60,823.70 Q815.80,819.50 805.00,823.70 Q804.00,824.50 804.40,822.70 Q802.50,804.90 804.40,787.10 Q804.00,785.30 805.00,786.10 Z" fill="none" stroke="#3c3c3c" stroke-width="0.75" />
<rect x="815.20" y="833.00" width="23.05" height="27.00" fill="none" stroke="#3c3c3c" stroke-width="0.75" />
<circle cx="827.12" cy="844.20" r="3.10" fill="none" stroke="#3c3c3c" stroke-width="0.6"/>
<line x1="822.12" y1="844.20" x2="832.12" y2="844.20" stroke="#3c3c3c" stroke-width="0.7"/>
<line x1="827.12" y1="839.20" x2="827.12" y2="849.20" stroke="#3c3c3c" stroke-width="0.7"/>
<line x1="650.50" y1="596.30" x2="712.00" y2="596.30" stroke="#3c3c3c" stroke-width="0.75"/>
<line x1="650.50" y1="599.40" x2="712.00" y2="599.40" stroke="#3c3c3c" stroke-width="0.75"/>
<rect x="654.50" y="599.40" width="3.00" height="53.10" fill="none" stroke="#3c3c3c" stroke-width="0.75" />
<line x1="654.50" y1="647.00" x2="657.50" y2="647.00" stroke="#3c3c3c" stroke-width="0.75"/>
<path d="M657.5,652.5 A54.5 53 0 0 0 712,599.4" fill="none" stroke="#3c3c3c" stroke-width="0.75" />
<rect x="301.25" y="501.25" width="75.55" height="58.65" fill="none" stroke="#3c3c3c" stroke-width="0.75" />
<line x1="350.50" y1="501.25" x2="350.50" y2="559.90" stroke="#3c3c3c" stroke-width="0.75"/>
</g>
<g font-family="'Liberation Sans', Arial, sans-serif" fill="#565656" text-anchor="middle" font-size="12.2" letter-spacing="0.1">
<text x="602.00" y="23.80">Балкон</text>
<text x="602.00" y="38.80">4.87</text>
<text x="602.00" y="53.80">(1.46)</text>
<text x="673.80" y="25.60">Балкон</text>
<text x="673.80" y="40.60">2.16</text>
<text x="673.80" y="55.60">(0.65)</text>
<text x="344.50" y="306.80">Кухня</text>
<text x="344.50" y="321.30">11.03</text>
<text x="291.30" y="422.00">С/У</text>
<text x="291.30" y="436.80">3.27</text>
<text x="438.80" y="388.80">Жилая</text>
<text x="438.80" y="403.30">комната</text>
<text x="438.80" y="417.60">20.56</text>
<text x="670.30" y="316.30">Жилая</text>
<text x="670.30" y="330.20">комната</text>
<text x="670.60" y="344.60">11.66</text>
<text x="735.80" y="456.30">С/У</text>
<text x="735.80" y="471.30">3.95</text>
<text x="518.30" y="540.00">Прихожая</text>
<text x="518.30" y="554.30">12.24</text>
<text x="710.80" y="646.30">Жилая</text>
<text x="710.80" y="660.60">комната</text>
<text x="710.80" y="675.00">12.01</text>
<text x="325.90" y="518.30" font-size="15.5" letter-spacing="0.5">76.83</text>
<text x="325.90" y="536.80" font-size="15.5" letter-spacing="0.5">74.72</text>
<text x="325.90" y="555.00" font-size="15.5" letter-spacing="0.5">44.23</text>
<text x="364.40" y="536.50" font-size="15.1" letter-spacing="0.8">3Б</text>
</g>
<g fill="#323232" stroke="none">
<rect x="166.50" y="7.00" width="10.50" height="53.00"/>
<rect x="166.50" y="59.25" width="72.20" height="29.05"/>
<rect x="359.80" y="59.25" width="92.70" height="29.05"/>
<rect x="573.75" y="59.25" width="103.00" height="29.05"/>
<rect x="798.00" y="59.25" width="49.00" height="29.05"/>
<rect x="632.50" y="7.00" width="10.75" height="53.00"/>
<rect x="846.25" y="0.00" width="29.15" height="89.00"/>
<rect x="838.25" y="88.00" width="37.15" height="766.25"/>
<rect x="838.25" y="854.00" width="28.75" height="46.00"/>
<rect x="166.50" y="88.00" width="13.75" height="388.00"/>
<path d="M166.5,475.4 L313.9,475.4 L313.9,483.75 L282,483.75 L282,519 L265,519 L265,493 L166.5,493 Z"/>
<rect x="166.50" y="330.50" width="147.25" height="9.00"/>
<rect x="306.25" y="330.50" width="7.50" height="67.50"/>
<rect x="306.25" y="377.60" width="16.25" height="8.40"/>
<rect x="306.25" y="452.00" width="7.50" height="31.75"/>
<path fill-rule="evenodd" d="M200.75,313.75 H263.75 V364.5 H200.75 Z M204.25,317.5 V330.5 H215 V317.5 Z M218.75,317.5 V330.5 H260.75 V317.5 Z M204.25,343 V360.75 H215 V343 Z M218.75,343 V360.75 H260.75 V343 Z"/>
<rect x="384.25" y="88.00" width="17.00" height="57.50"/>
<rect x="384.25" y="145.00" width="8.25" height="265.00"/>
<rect x="384.25" y="409.50" width="16.75" height="74.25"/>
<rect x="384.25" y="475.75" width="34.00" height="8.00"/>
<rect x="479.25" y="475.75" width="171.45" height="8.05"/>
<rect x="633.50" y="88.00" width="17.20" height="57.00"/>
<rect x="642.50" y="144.00" width="8.20" height="266.00"/>
<rect x="633.60" y="409.80" width="17.10" height="74.00"/>
<rect x="712.00" y="362.50" width="126.50" height="8.00"/>
<rect x="712.00" y="362.50" width="8.80" height="77.20"/>
<rect x="712.00" y="494.20" width="8.80" height="105.80"/>
<rect x="712.00" y="547.50" width="126.50" height="8.00"/>
<path fill-rule="evenodd" d="M755.25,522 H819.5 V548 H755.25 Z M759,528.25 V546.6 H800.75 V528.25 Z M805,528.25 V546.6 H815.25 V528.25 Z"/>
<path d="M265,589.5 L281.75,589.5 L281.75,591.25 L650.8,591.25 L650.8,608.7 L265,608.7 Z"/>
<rect x="633.50" y="607.00" width="17.30" height="293.00"/>
<rect x="633.50" y="870.50" width="83.25" height="29.50"/>
</g>
</svg>
</div>
</body></html>
